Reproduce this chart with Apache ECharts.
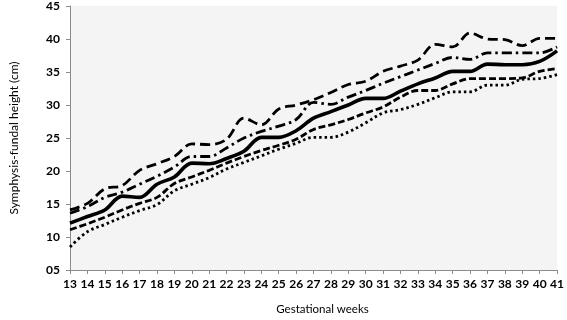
<!DOCTYPE html>
<html>
<head>
<meta charset="utf-8">
<script src="https://cdn.jsdelivr.net/npm/echarts@6/dist/echarts.min.js"></script>
<style>
  html, body { margin: 0; padding: 0; background: #fff; }
  #main { width: 567px; height: 320px; }
</style>
</head>
<body>
<div id="main"></div>
<script>
// gestational weeks
const weeks = [13,14,15,16,17,18,19,20,21,22,23,24,25,26,27,28,29,30,31,32,33,34,35,36,37,38,39,40,41];

// curves (cm)
const upperDashed = [14.1,15.1,17.3,17.8,20.1,21.1,22.2,24.1,24.0,24.8,28.0,27.0,29.4,30.0,30.8,31.9,33.1,33.6,35.1,35.9,36.8,39.2,38.8,40.9,40.0,39.9,39.0,40.1,40.1];
const dashDot = [13.6,14.6,16.0,16.8,18.0,19.2,20.6,22.2,22.2,23.5,25.0,26.0,26.8,27.8,30.4,30.1,31.2,32.2,33.3,34.3,35.3,36.3,37.2,36.9,37.9,37.9,37.9,37.9,38.8];
const median = [12.1,13.1,14.1,16.2,16.0,18.0,19.1,21.2,21.1,21.9,23.0,25.1,25.1,26.1,28.0,29.0,30.0,31.0,31.0,32.1,33.2,34.1,35.1,35.1,36.2,36.1,36.1,36.6,38.2];
const lowerDashed = [11.1,12.0,13.0,14.1,15.1,16.0,18.1,19.1,20.1,21.2,22.2,23.1,23.9,24.8,26.3,27.0,27.8,28.8,29.7,31.2,32.2,32.2,33.2,34.0,34.0,34.0,34.1,35.1,35.5];
const lowerDotted = [8.5,10.8,11.9,13.0,14.0,14.9,17.0,18.0,19.0,20.3,21.3,22.3,23.3,24.2,25.1,25.1,25.9,27.3,28.8,29.3,30.1,31.1,32.0,32.0,33.0,33.0,33.9,34.0,34.6];

const yTicks = { min: 5, max: 45, step: 5 };

const chart = echarts.init(document.getElementById('main'));

const lineSeries = (data, width, dash) => ({
  type: 'line',
  data: data,
  smooth: 0.35,
  symbol: 'none',
  lineStyle: {
    color: '#000',
    width: width,
    type: dash,
    cap: 'butt'
  },
  z: 3
});

const option = {
  backgroundColor: '#ffffff',
  animation: false,
  grid: {
    left: 53,
    right: 6,
    top: 4,
    bottom: 43,
    show: true,
    backgroundColor: '#f4f4f4',
    borderWidth: 0
  },
  xAxis: {
    type: 'category',
    data: weeks,
    boundaryGap: false,
    name: 'Gestational weeks',
    nameLocation: 'middle',
    nameGap: 33,
    nameTextStyle: {
      fontFamily: 'Lato',
      fontSize: 11.5,
      color: '#000',
      padding: [0, 0, 0, 18]
    },
    axisLine: { lineStyle: { color: '#8c8c8c', width: 1 } },
    axisTick: { alignWithLabel: true, length: 4, lineStyle: { color: '#8c8c8c' } },
    axisLabel: {
      interval: 0,
      margin: 8,
      fontFamily: 'Lato',
      fontWeight: 'bold',
      fontSize: 12,
      color: '#000'
    },
    splitLine: { show: false }
  },
  yAxis: {
    type: 'value',
    min: yTicks.min,
    max: yTicks.max,
    interval: yTicks.step,
    name: 'Symphysis-fundal height (cm)',
    nameLocation: 'middle',
    nameGap: 38,
    nameRotate: 90,
    nameTextStyle: {
      fontFamily: 'Lato',
      fontSize: 12,
      color: '#000',
      padding: [0, 0, 12, 0]
    },
    axisLine: { show: true, lineStyle: { color: '#8c8c8c', width: 1 } },
    axisTick: { show: true, length: 4, lineStyle: { color: '#8c8c8c' } },
    axisLabel: {
      margin: 10,
      fontFamily: 'Lato',
      fontWeight: 'bold',
      fontSize: 12,
      color: '#000',
      formatter: v => (v < 10 ? '0' + v : String(v))
    },
    splitLine: { show: false }
  },
  series: [
    lineSeries(upperDashed, 2.8, [10, 5]),
    lineSeries(dashDot, 2.8, [10, 4, 2.5, 4]),
    lineSeries(median, 3.6, 'solid'),
    lineSeries(lowerDashed, 2.8, [7, 3]),
    lineSeries(lowerDotted, 2.8, [2.5, 3])
  ]
};

chart.setOption(option);
</script>
</body>
</html>
